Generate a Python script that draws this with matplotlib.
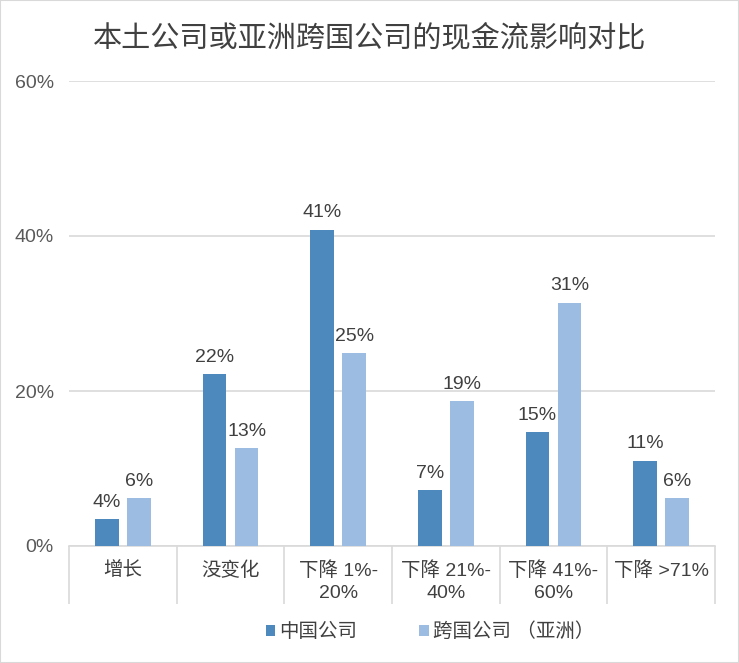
import numpy as np
import matplotlib.pyplot as plt
from matplotlib.patches import Rectangle
from matplotlib.ticker import FuncFormatter

plt.rcParams['font.family'] = ['Liberation Sans', 'Noto Sans CJK SC', 'DejaVu Sans']

categories = ['增长', '没变化', '下降 1%-\n20%', '下降 21%-\n40%', '下降 41%-\n60%', '下降 >71%']
china = [3.5, 22.2, 40.8, 7.2, 14.7, 11.0]
mnc_asia = [6.2, 12.6, 24.9, 18.7, 31.4, 6.2]
series_names = ['中国公司', '跨国公司 （亚洲）']
title = '本土公司或亚洲跨国公司的现金流影响对比'

dark = '#4E89BD'
light = '#9DBCE1'
grey = '#D9D9D9'
txt = '#404040'

fig = plt.figure(figsize=(7.39, 6.63), dpi=100)
ax = fig.add_axes([69 / 739, 1 - 546 / 663, 646 / 739, 465 / 663])

x = np.arange(len(categories))
w = 0.22
b1 = ax.bar(x - 0.15, china, w, color=dark, label=series_names[0], zorder=3)
b2 = ax.bar(x + 0.15, mnc_asia, w, color=light, label=series_names[1], zorder=3)
for bars in (b1, b2):
    ax.bar_label(bars, labels=[f'{v:.0f}%' for v in bars.datavalues],
                 padding=6, fontsize=14, color=txt)

ax.set_xlim(-0.5, len(categories) - 0.5)
ax.set_ylim(0, 60)
ax.set_yticks([0, 20, 40, 60])
ax.yaxis.set_major_formatter(FuncFormatter(lambda v, p: f'{v:.0f}%'))
ax.grid(axis='y', color=grey, linewidth=1.2, zorder=0)
for s in ('top', 'right', 'left'):
    ax.spines[s].set_visible(False)
ax.spines['bottom'].set_color(grey)
ax.spines['bottom'].set_linewidth(1.2)
ax.tick_params(axis='y', length=0, labelsize=14, labelcolor='#595959', pad=11)

ax.set_xticks(x)
ax.set_xticklabels(categories, linespacing=1.35)
ax.tick_params(axis='x', which='major', length=0, labelsize=14, labelcolor=txt, pad=11)
ax.set_xticks(np.arange(-0.5, len(categories)), minor=True)
ax.tick_params(axis='x', which='minor', length=42, color=grey, width=1.2)

fig.suptitle(title, x=370 / 739, y=1 - 38 / 663, va='center', fontsize=21, color=txt)

ax.legend(loc='center', bbox_to_anchor=(430 / 739, 1 - 632 / 663), bbox_transform=fig.transFigure,
          ncol=2, frameon=False, fontsize=14, handlelength=0.5, handleheight=0.5,
          columnspacing=3.2, handletextpad=0.2, labelcolor=txt)

fig.patches.append(Rectangle((0, 0), 1, 1, transform=fig.transFigure, fill=False,
                             edgecolor=grey, linewidth=1.5))

fig.savefig('out.png', dpi=100)
